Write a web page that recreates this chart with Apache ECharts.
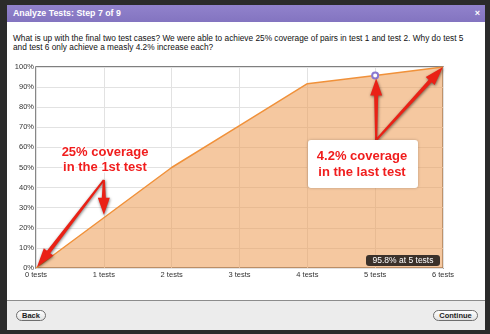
<!DOCTYPE html>
<html><head><meta charset="utf-8">
<script src="https://cdn.jsdelivr.net/npm/echarts@6/dist/echarts.min.js"></script>
<style>
html,body{margin:0;padding:0;}
body{width:490px;height:334px;overflow:hidden;background:#2b2b2b;position:relative;font-family:"Liberation Sans",Arial,sans-serif;}
#dialog{position:absolute;left:7px;top:5px;width:478px;height:324px;background:#fff;}
#title{position:absolute;left:7px;top:5px;width:478px;height:17px;background:linear-gradient(#9182cc,#8374c0);color:#fff;font-weight:bold;font-size:8.8px;line-height:17px;}
#title span.t{position:absolute;left:6px;}
#title span.x{position:absolute;right:5px;font-size:9px;}
#q{position:absolute;left:13px;top:34px;font-size:8.3px;line-height:8.6px;color:#111;white-space:nowrap;}
#footer{position:absolute;left:7px;top:300px;width:478px;height:29px;background:#ececec;border-top:1px solid #8c8c8c;}
.btn{position:absolute;top:310px;height:9px;border:1px solid #6e6e6e;border-radius:6px;background:linear-gradient(#ffffff,#e2e2e2);font-size:7.5px;font-weight:bold;color:#222;line-height:9px;text-align:center;}
#chart{position:absolute;left:0;top:0;width:490px;height:334px;}
</style></head>
<body>
<div id="dialog"></div>
<div id="title"><span class="t">Analyze Tests: Step 7 of 9</span><span class="x">×</span></div>
<div id="q">What is up with the final two test cases? We were able to achieve 25% coverage of pairs in test 1 and test 2. Why do test 5<br>and test 6 only achieve a measly 4.2% increase each?</div>
<div id="footer"></div>
<div class="btn" style="left:16px;width:28px;">Back</div>
<div class="btn" style="left:433px;width:43px;">Continue</div>
<div id="chart"></div>
<script>
const categories = ['0 tests','1 tests','2 tests','3 tests','4 tests','5 tests','6 tests'];
const coverage = [0, 25, 50, 70.8, 91.7, 95.8, 100];
const yTickValues = [0,10,20,30,40,50,60,70,80,90,100];
const highlightIndex = 5;
const note1 = ['25% coverage','in the 1st test'];
const note2 = ['4.2% coverage','in the last test'];
const hoverLabel = '95.8% at 5 tests';

const FONT = '"Liberation Sans", Arial, sans-serif';
const chart = echarts.init(document.getElementById('chart'), null, {renderer:'canvas'});
const seriesData = coverage.map((v,i)=> i===highlightIndex
  ? {value:v, symbol:'emptyCircle', symbolSize:6, itemStyle:{color:'#8a78d0', borderColor:'#8a78d0', borderWidth:1.5}}
  : {value:v, symbol:'none'});
chart.setOption({
  backgroundColor:'transparent',
  animation:false,
  grid:{left:36, right:47, top:67, bottom:66, show:true, borderColor:'#555', borderWidth:1.4, backgroundColor:'#fff', containLabel:false},
  xAxis:{type:'category', data:categories, boundaryGap:false,
    axisLine:{show:false}, axisTick:{show:false},
    axisLabel:{color:'#333', fontSize:7.5, fontFamily:FONT, margin:3},
    splitLine:{show:true, lineStyle:{color:'#e2e2e2', width:1}}},
  yAxis:{type:'value', min:0, max:100, interval:10,
    axisLine:{show:false}, axisTick:{show:false},
    axisLabel:{color:'#333', fontSize:7.5, fontFamily:FONT, margin:2, formatter:'{value}%'},
    splitLine:{show:true, lineStyle:{color:'#e2e2e2', width:1}}},
  series:[{type:'line', data:seriesData, showSymbol:true, z:3,
    lineStyle:{color:'#f0913a', width:1.5},
    itemStyle:{color:'#f0913a'},
    areaStyle:{color:'#ec9a52', opacity:0.55}}]
});

function arrow(tail, tip, w0, w1, hw, hl){
  const dx=tip[0]-tail[0], dy=tip[1]-tail[1], L=Math.hypot(dx,dy);
  const ux=dx/L, uy=dy/L, nx=-uy, ny=ux;
  const bx=tip[0]-ux*hl, by=tip[1]-uy*hl;
  const pts=[[tail[0]+nx*w0/2, tail[1]+ny*w0/2],[bx+nx*w1/2, by+ny*w1/2],[bx+nx*hw/2, by+ny*hw/2],tip,
    [bx-nx*hw/2, by-ny*hw/2],[bx-nx*w1/2, by-ny*w1/2],[tail[0]-nx*w0/2, tail[1]-ny*w0/2]];
  return {type:'polygon', z:100, shape:{points:pts},
    style:{fill:'#ea2116', shadowBlur:3, shadowColor:'rgba(0,0,0,0.55)', shadowOffsetX:0.5, shadowOffsetY:1}};
}
const p = i => chart.convertToPixel({xAxisIndex:0, yAxisIndex:0}, [i, coverage[i]]);
const p0=p(0), p1=p(1), p5=p(5), p6=p(6);
const gridRect = chart.getModel().getComponent('grid').coordinateSystem.getRect();
const tail1=[p1[0], 180], tail2=[p5[0]+1, 140];
const noteText = (lines,x,y)=>({type:'text', z:110, x:x, y:y,
  style:{text:lines.join('\n'), fill:'#f01d1d', font:'bold 13px '+FONT, lineHeight:15.5, align:'center', verticalAlign:'middle',
    stroke:'#fff', lineWidth:3, shadowBlur:2, shadowColor:'rgba(0,0,0,0.35)'}});
const lblW=74, lblH=11;
chart.setOption({graphic:[
  arrow(tail1, [p0[0]+1, p0[1]-1], 2, 4, 12, 19),
  arrow(tail1, [p1[0], p1[1]-3], 2, 4, 12, 17),
  noteText(note1, 105, 160),
  {type:'rect', z:105, shape:{x:308, y:140, width:110, height:48, r:3}, style:{fill:'#fff', shadowBlur:3, shadowColor:'rgba(0,0,0,0.25)'}},
  noteText(note2, 362, 164.5),
  arrow(tail2, [p5[0]+1, p5[1]+3], 2, 4, 12, 17),
  arrow(tail2, [p6[0], p6[1]], 2, 4, 12, 19),
  {type:'rect', z:105, shape:{x:gridRect.x+gridRect.width-lblW-3, y:gridRect.y+gridRect.height-lblH-2, width:lblW, height:lblH, r:3},
    style:{fill:'#3b312a'}},
  {type:'text', z:106, x:gridRect.x+gridRect.width-3-lblW/2, y:gridRect.y+gridRect.height-2-lblH/2,
    style:{text:hoverLabel, fill:'#fff', font:'8.5px '+FONT, align:'center', verticalAlign:'middle'}}
]});
</script>
</body></html>
